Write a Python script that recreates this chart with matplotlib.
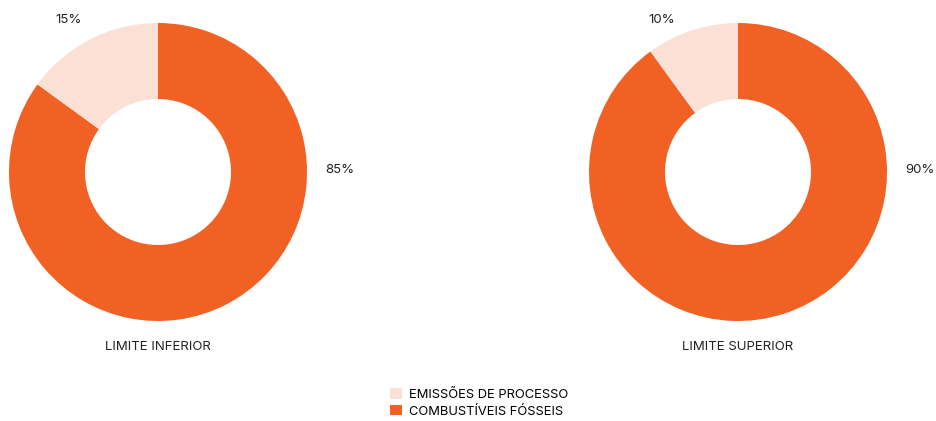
import matplotlib.pyplot as plt
from matplotlib.patches import Patch

plt.rcParams['font.family'] = ['Inter', 'DejaVu Sans']

categorias = ['EMISSÕES DE PROCESSO', 'COMBUSTÍVEIS FÓSSEIS']
cores = ['#FBE0D6', '#F26124']
cenarios = ['LIMITE INFERIOR', 'LIMITE SUPERIOR']
emissoes_processo = [15, 10]
combustiveis_fosseis = [85, 90]

W, H = 936, 421
fig = plt.figure(figsize=(W / 100, H / 100), dpi=100)

# centros dos donuts em pixels e posição dos rótulos (offset relativo ao centro)
centros = [(158, 172), (738, 172)]
off_menor = [(-89, 152), (-76, 152)]
off_maior = [(182, 2), (182, 2)]
R = 150  # pixels por unidade

for i, nome in enumerate(cenarios):
    cx, cy = centros[i]
    ax = fig.add_axes([(cx - R) / W, (H - cy - R) / H, 2 * R / W, 2 * R / H])
    vals = [combustiveis_fosseis[i], emissoes_processo[i]]
    ax.pie(vals, colors=[cores[1], cores[0]], startangle=90, counterclock=False,
           radius=149 / R, wedgeprops=dict(width=(149 - 73) / R, linewidth=0))
    ax.set_xlim(-1, 1)
    ax.set_ylim(-1, 1)
    ax.set_aspect('equal')
    ax.axis('off')
    dx, dy = off_menor[i]
    ax.text(dx / R, dy / R, f'{emissoes_processo[i]}%', ha='center', va='center',
            fontsize=9.5, color='#222222')
    dx, dy = off_maior[i]
    ax.text(dx / R, dy / R, f'{combustiveis_fosseis[i]}%', ha='center', va='center',
            fontsize=9.5, color='#222222')
    fig.text(cx / W, 1 - 347 / H, nome, ha='center', va='center',
             fontsize=9.5, color='#222222')

handles = [Patch(facecolor=c, edgecolor='none') for c in cores]
fig.legend(handles, categorias, loc='upper left', bbox_to_anchor=(390 / W, 1 - 388 / H),
           frameon=False, fontsize=9.3, handlelength=0.9, handleheight=0.9,
           handletextpad=0.6, labelspacing=0.3, borderpad=0, borderaxespad=0)

fig.savefig('out.png', dpi=100)
